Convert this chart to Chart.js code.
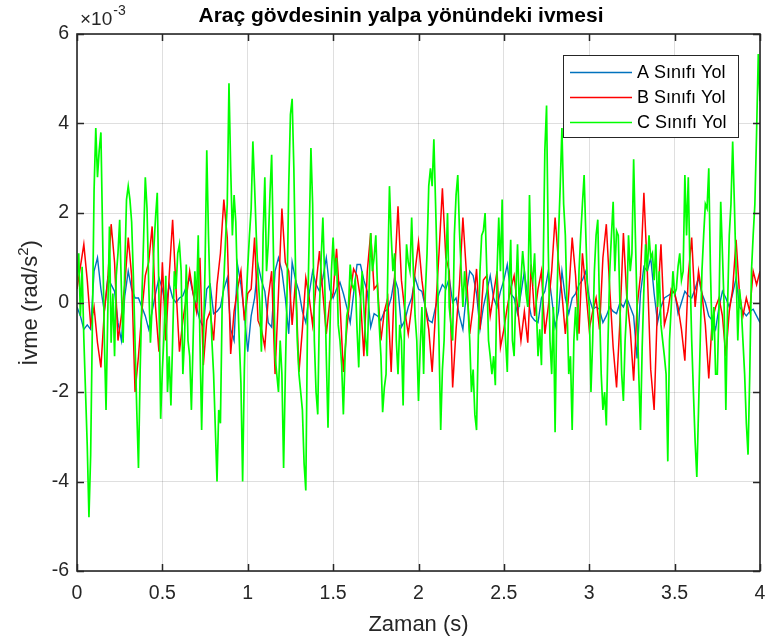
<!DOCTYPE html>
<html>
<head>
<meta charset="utf-8">
<script src="https://cdn.jsdelivr.net/npm/chart.js@4.4.1/dist/chart.umd.min.js"></script>
<style>
  html, body { margin: 0; padding: 0; background: #ffffff; }
  #wrap { width: 768px; height: 641px; }
</style>
</head>
<body>
<div id="wrap"><canvas id="c" width="768" height="641"></canvas></div>
<script>
// Roll acceleration of the vehicle body for three road classes (values in 1e-3 rad/s^2)
const seriesNames = ['A Sınıfı Yol', 'B Sınıfı Yol', 'C Sınıfı Yol'];
const seriesColors = ['#0072bd', '#ff0000', '#00ff00'];
const xTicks = [0, 0.5, 1, 1.5, 2, 2.5, 3, 3.5, 4];
const yTicks = [-6, -4, -2, 0, 2, 4, 6];

// sample spacing (s) of each record
const stepA = 0.02;
const stepB = 0.02;
const stepC = 0.01;

const roadA = [
  -0.1, -0.3, -0.6, -0.5, -0.6, 0.7, 1.0, 0.3, -0.2, 0.55,
  0.4, 0.25, -0.45, -0.85, 0.15, 0.7, 0.3, 0.1, 0.1, -0.1,
  -0.3, -0.6, -0.2, 0.2, 0.55, 0.3, -0.1, 0.4, 0.1, 0.0,
  0.1, 0.15, 0.35, 0.55, 0.2, -0.1, -0.4, -0.55, 0.3, 0.4,
  -0.25, -0.2, -0.1, 0.3, 0.55, -0.6, -0.85, 0.85, 0.4, -0.25,
  -1.1, -0.3, 0.1, 0.85, 0.5, 0.25, -0.45, -0.55, 0.7, 1.0,
  0.7, 0.1, -0.7, 0.9, 0.5, 0.25, -0.2, -0.45, 0.2, 0.7,
  0.4, 0.25, 0.55, 1.0, 0.3, 0.1, 0.3, 0.45, 0.2, -0.1,
  -0.45, 0.2, 0.85, 0.85, 0.5, 0.25, -0.55, -0.25, -0.3, -0.4,
  -0.2, -0.15, 0.1, 0.55, 0.3, -0.55, -0.4, -0.1, 0.1, 0.55,
  0.3, 0.25, -0.1, -0.4, -0.45, -0.1, 0.2, 0.4, 0.3, 0.55,
  0.0, 0.1, -0.3, -0.6, 0.2, 0.7, 0.6, 0.2, -0.6, -0.1,
  0.25, 0.6, 0.1, -0.1, 0.25, 0.5, 0.85, 0.2, 0.1, -0.25,
  0.2, 0.7, 0.1, -0.3, -0.4, -0.45, 0.1, 0.25, 0.7, 0.1,
  -0.55, -0.2, 0.7, 0.1, -0.25, 0.1, 0.2, 0.4, 0.5, 0.7,
  0.1, -0.15, -0.1, -0.15, -0.45, -0.3, -0.1, -0.2, -0.25, 0.0,
  -0.1, 0.1, -0.1, -0.3, -1.25, 0.2, 0.8, 0.7, 1.0, 0.2,
  -0.45, -0.1, 0.1, 0.15, 0.2, 0.25, -0.25, 0.0, 0.25, 0.15,
  0.1, 0.3, 0.55, 0.2, 0.0, -0.3, -0.4, -0.6, -0.1, 0.25,
  0.1, -0.1, 0.2, 0.55, -0.1, -0.2, -0.3, -0.2, -0.15, -0.3,
  -0.45
];

const roadB = [
  0.3, 0.8, 1.3, 0.5, -0.5, -0.1, -0.9, -1.45, -0.2, 0.5,
  1.75, 0.9, -0.85, -0.3, 0.4, 1.45, 0.6, -2.0, -1.2, -0.2,
  0.6, 0.9, 1.7, -0.1, -1.1, 0.9, -0.85, 0.6, 1.85, 0.3,
  -1.1, -0.4, 0.1, 0.7, 0.2, -0.2, 1.0, -1.4, -0.4, -0.2,
  -0.85, 0.4, 1.1, 2.3, 1.45, -1.15, -0.2, 0.3, 0.7, -0.4,
  0.2, 0.3, 1.45, -0.4, -0.6, -1.0, 0.1, 0.7, -1.6, 0.2,
  2.1, 0.9, 0.7, -0.5, 0.5, -1.55, -0.6, 0.55, 0.1, -0.5,
  0.4, 1.15, 0.2, -0.7, 0.0, 0.2, 1.2, 0.0, -1.55, -0.6,
  0.2, 0.75, 0.6, 0.1, -1.2, 0.7, 1.55, 0.3, 0.4, -0.85,
  -0.2, 0.1, -1.55, 0.6, 2.15, 0.5, -0.2, -0.7, -0.1, 0.7,
  1.35, 0.5, -0.1, -0.6, -1.55, -0.2, 1.1, 2.55, 1.0, 0.7,
  -1.9, -0.6, 0.4, 1.9, 0.7, -0.7, -0.1, 0.75, -0.6, 0.5,
  0.6, -0.3, 0.2, 0.7, -1.0, -0.6, -0.1, 0.3, 0.6, -0.1,
  -0.85, -0.2, -0.9, 0.85, -0.3, 0.3, 0.7, -0.7, -0.1, 0.7,
  1.9, 0.9, 0.2, -0.7, 0.2, 1.45, 0.6, -0.7, 1.1, 0.3,
  -0.6, -0.2, 0.1, -0.6, 1.0, 1.75, 0.3, -1.0, -1.9, -0.4,
  1.55, 0.1, -0.6, -1.75, -0.1, 0.6, 2.45, 0.7, -1.5, -2.4,
  0.0, 1.3, -0.5, -0.2, 0.3, 0.2, -0.1, -0.6, -1.3, 0.6,
  1.45, -0.1, 0.7, 0.2, -0.5, -1.7, -0.4, -0.1, 0.1, -0.3,
  -1.2, -0.2, 0.3, 1.4, 0.2, -0.3, 0.1, -0.2, 0.7, 0.4,
  0.7
];

const roadC = [
  0.5, 1.1, -0.3, 0.8, -0.8, -2.0, -3.2, -4.8, -3.4, -0.5,
  2.5, 3.9, 2.8, 3.4, 3.8, 1.5, -0.8, -2.4, -0.3, 1.7,
  -0.9, 0.2, -1.2, 0.6, 1.1, 1.85, 0.3, -0.9, 0.8, 2.3,
  2.6, 2.3, 1.8, 0.6, -0.9, -2.4, -3.7, -1.5, 0.1, 1.4,
  2.8, 2.1, 0.4, -0.9, -0.1, 1.2, 1.9, 2.45, 0.1, -2.6,
  -1.5, -0.7, 0.6, -2.0, -1.2, -2.3, -0.85, 0.7, 0.3, 1.1,
  1.3, 0.7, -1.6, -0.8, 0.85, -0.85, -1.2, -2.4, -0.85, 0.7,
  0.0, 1.5, -0.85, -2.85, -1.0, 0.8, 3.4, 1.5, 0.1, -0.85,
  -1.6, -2.8, -4.0, -2.4, -2.7, -0.1, 0.5, 1.4, 2.2, 4.9,
  3.0, 1.5, 2.4, 1.8, 0.3, -0.8, -1.8, -4.0, -1.5, 0.0,
  0.8, 1.5, 2.1, 3.6, 2.6, 1.5, 0.6, 0.0, -1.1, 1.5,
  2.8, 0.7, 1.3, 2.4, 3.3, 1.2, -1.2, -1.6, -2.0, -0.85,
  -1.6, -3.7, -1.6, 0.2, 2.6, 4.2, 4.55, 3.0, 0.7, -0.85,
  -1.6, -2.0, -2.4, -3.6, -4.2, -0.4, 1.5, 3.45, 2.2, -0.85,
  -2.0, -2.5, -0.1, 1.0, 1.9, 0.6, -1.2, -2.8, -0.85, 0.7,
  1.45, 0.6, 1.0, -0.5, -0.85, -1.4, -2.5, -1.2, -0.3, -0.1,
  0.85, 0.4, 0.3, 0.5, -0.6, -1.45, 0.0, 0.7, -0.1, -0.8,
  -1.2, 0.2, 1.55, 0.7, 1.0, 1.5, 0.3, -0.5, -1.2, -2.45,
  -1.9, -1.6, 0.7, 2.6, 1.5, 0.7, 1.1, -0.85, -1.6, -0.5,
  -0.85, -2.3, -0.1, 1.3, 0.9, 0.7, 1.9, 0.7, -0.3, -0.85,
  -2.2, -1.0, -0.1, -1.6, 0.2, 1.1, 2.6, 3.0, 2.6, 3.65,
  2.2, 0.7, -0.85, -2.85, -1.5, -0.85, 0.7, 2.0, -0.1, -0.5,
  -0.85, 1.5, 2.4, 2.85, 1.6, 0.7, -0.1, 0.7, 0.2, -0.1,
  -0.85, -2.0, -1.5, -2.5, -2.85, -0.85, 0.7, 1.5, 1.6, 2.0,
  0.7, -0.85, -1.2, -1.6, -1.2, -1.85, 0.7, 1.9, 0.7, 2.3,
  -0.1, -0.85, -1.55, 0.3, 1.4, -0.85, -1.2, 0.2, 1.3, -0.1,
  0.5, 1.15, 0.7, 0.2, -0.1, 2.4, 0.7, 0.5, 1.1, -0.1,
  -1.2, -0.6, -1.4, 0.7, 3.4, 4.4, 1.2, -0.85, -1.6, -0.1,
  -2.9, -0.1, 1.5, 2.6, 3.9, 2.2, 1.5, -0.1, -1.6, -1.2,
  -2.85, -0.85, -0.1, -0.85, 0.7, 1.5, 2.2, 2.85, 1.5, 0.3,
  -0.1, -2.0, -0.85, 0.7, 1.5, 1.85, -0.1, -1.6, -2.4, -2.0,
  -2.75, -0.85, 0.7, 1.5, 2.25, 0.7, 1.6, 1.5, -0.1, -1.6,
  -2.2, -0.85, -0.1, 1.5, 0.7, 1.1, 3.2, 1.5, -0.1, -1.6,
  -2.85, -1.0, 0.3, 1.3, 0.7, 1.5, 1.0, 1.1, 0.5, 1.3,
  -0.1, 0.7, -0.5, -0.85, -1.2, -1.6, -3.55, -0.85, -0.1, 0.7,
  0.2, 0.3, 0.8, 1.1, 0.5, 0.7, 2.85, 1.5, 2.8, 0.7,
  -0.85, -2.0, -3.1, -3.9, -2.4, -0.85, 0.7, 1.5, 2.2, 2.1,
  3.0, 0.7, -0.85, -0.1, -1.6, -1.6, -0.1, 2.25, 1.1, -0.1,
  -2.4, -0.1, 1.5, 2.2, 3.6, 2.2, 0.7, -0.85, 0.3, -0.1,
  -0.85, -1.6, -2.7, -3.4, -1.6, 0.7, 1.5, 2.2, 3.8, 5.55,
  4.5
];

const FONT = "'Liberation Sans', Arial, Helvetica, sans-serif";
const INK = '#262626';
const GRID = 'rgba(38,38,38,0.15)';

function toPoints(values, step) {
  return values.map((v, i) => ({ x: Math.round(i * step * 1000) / 1000, y: v }));
}

// Box, inward tick marks, titles, exponent note and legend in MATLAB style
const axesDecor = {
  id: 'axesDecor',
  afterDraw(chart) {
    const { ctx, chartArea: a, scales } = chart;
    const sx = scales.x, sy = scales.y;
    ctx.save();

    // axes box and inward ticks
    ctx.strokeStyle = INK;
    ctx.lineWidth = 1.6;
    ctx.strokeRect(a.left, a.top, a.right - a.left, a.bottom - a.top);
    const L = 7;
    ctx.lineWidth = 1.5;
    ctx.beginPath();
    sx.ticks.forEach(t => {
      const px = Math.round(sx.getPixelForValue(t.value)) + 0.5;
      ctx.moveTo(px, a.bottom); ctx.lineTo(px, a.bottom - L);
      ctx.moveTo(px, a.top); ctx.lineTo(px, a.top + L);
    });
    sy.ticks.forEach(t => {
      const py = Math.round(sy.getPixelForValue(t.value)) + 0.5;
      ctx.moveTo(a.left, py); ctx.lineTo(a.left + L, py);
      ctx.moveTo(a.right, py); ctx.lineTo(a.right - L, py);
    });
    ctx.stroke();

    // title
    ctx.fillStyle = '#000000';
    ctx.font = `bold 21px ${FONT}`;
    ctx.textAlign = 'center';
    ctx.textBaseline = 'alphabetic';
    ctx.fillText('Araç gövdesinin yalpa yönündeki ivmesi', 401, 22);

    // exponent note
    ctx.fillStyle = INK;
    ctx.textAlign = 'left';
    ctx.font = `19px ${FONT}`;
    ctx.fillText('×10', 80, 25);
    const wx = ctx.measureText('×10').width;
    ctx.font = `14px ${FONT}`;
    ctx.fillText('-3', 80 + wx + 1, 15);

    // x axis title
    ctx.font = `22px ${FONT}`;
    ctx.textAlign = 'center';
    ctx.fillText('Zaman (s)', (a.left + a.right) / 2, 631);

    // y axis title with superscript
    ctx.save();
    ctx.translate(37, 303);
    ctx.rotate(-Math.PI / 2);
    ctx.textAlign = 'left';
    ctx.font = `22px ${FONT}`;
    const p1 = 'İvme (rad/s', p3 = ')';
    const w1 = ctx.measureText(p1).width, w3 = ctx.measureText(p3).width;
    ctx.font = `15px ${FONT}`;
    const w2 = ctx.measureText('2').width;
    const x0 = -(w1 + w2 + w3) / 2;
    ctx.font = `22px ${FONT}`;
    ctx.fillText(p1, x0, 0);
    ctx.font = `15px ${FONT}`;
    ctx.fillText('2', x0 + w1, -9);
    ctx.font = `22px ${FONT}`;
    ctx.fillText(p3, x0 + w1 + w2, 0);
    ctx.restore();

    // legend
    const box = { x: 563.5, y: 55.5, w: 175, h: 82 };
    ctx.fillStyle = '#ffffff';
    ctx.fillRect(box.x, box.y, box.w, box.h);
    ctx.strokeStyle = INK;
    ctx.lineWidth = 1;
    ctx.strokeRect(box.x, box.y, box.w, box.h);
    const rows = [72, 97, 122];
    ctx.font = `18px ${FONT}`;
    ctx.textAlign = 'left';
    ctx.textBaseline = 'middle';
    chart.data.datasets.forEach((ds, i) => {
      ctx.strokeStyle = ds.borderColor;
      ctx.lineWidth = 1.5;
      ctx.beginPath();
      ctx.moveTo(570, rows[i] + 0.5);
      ctx.lineTo(632, rows[i] + 0.5);
      ctx.stroke();
      ctx.fillStyle = '#000000';
      ctx.fillText(ds.label, 637, rows[i] + 1);
    });
    ctx.restore();
  }
};

Chart.defaults.font.family = FONT;

new Chart(document.getElementById('c').getContext('2d'), {
  type: 'line',
  data: {
    datasets: [
      { label: seriesNames[0], data: toPoints(roadA, stepA), borderColor: seriesColors[0], borderWidth: 1.4, order: 2 },
      { label: seriesNames[1], data: toPoints(roadB, stepB), borderColor: seriesColors[1], borderWidth: 1.5, order: 1 },
      { label: seriesNames[2], data: toPoints(roadC, stepC), borderColor: seriesColors[2], borderWidth: 1.7, order: 0 }
    ]
  },
  options: {
    responsive: false,
    animation: false,
    devicePixelRatio: 1,
    parsing: false,
    normalized: true,
    elements: {
      line: { tension: 0, fill: false, borderJoinStyle: 'miter' },
      point: { radius: 0, hoverRadius: 0 }
    },
    layout: { padding: { top: 34, right: 8, left: 0, bottom: 0 } },
    plugins: {
      legend: { display: false },
      tooltip: { enabled: false },
      title: { display: false }
    },
    events: [],
    scales: {
      x: {
        type: 'linear',
        min: 0,
        max: 4,
        afterBuildTicks: s => { s.ticks = xTicks.map(v => ({ value: v })); },
        afterFit: s => { s.height = 70; s.paddingLeft = 0; s.paddingRight = 0; },
        ticks: {
          padding: 11,
          color: INK,
          font: { size: 19.5 },
          maxRotation: 0,
          autoSkip: false,
          callback: v => String(v)
        },
        grid: { color: GRID, lineWidth: 1, drawTicks: false },
        border: { display: false }
      },
      y: {
        type: 'linear',
        min: -6,
        max: 6,
        afterBuildTicks: s => { s.ticks = yTicks.map(v => ({ value: v })); },
        afterFit: s => { s.width = 77; s.paddingTop = 0; s.paddingBottom = 0; },
        ticks: {
          padding: 8,
          color: INK,
          font: { size: 19.5 },
          autoSkip: false,
          callback: v => String(v)
        },
        grid: { color: GRID, lineWidth: 1, drawTicks: false },
        border: { display: false }
      }
    }
  },
  plugins: [axesDecor]
});
</script>
</body>
</html>
